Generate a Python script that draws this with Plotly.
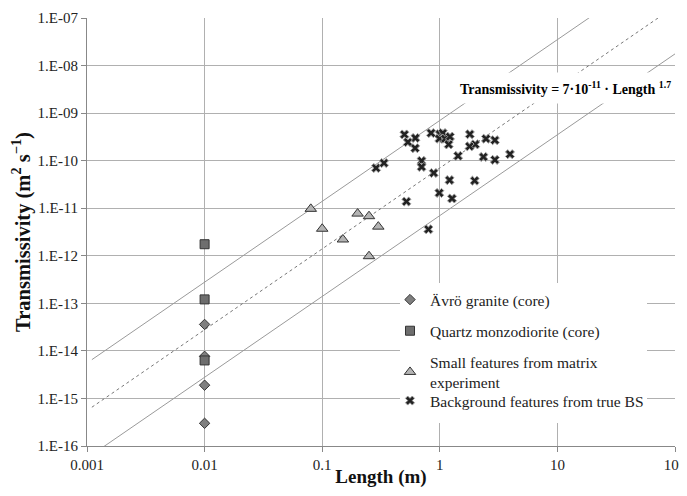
import numpy as np
import plotly.graph_objects as go

# ---- data ----
avro_len = [0.01, 0.01, 0.01, 0.01]
avro_T = [3.6e-14, 7.7e-15, 1.9e-15, 3.0e-16]

qmd_len = [0.01, 0.01, 0.01]
qmd_T = [1.75e-12, 1.21e-13, 6.3e-15]

small_len = [0.08, 0.10, 0.15, 0.20, 0.25, 0.25, 0.30]
small_T = [9.7e-12, 3.7e-12, 2.2e-12, 7.7e-12, 6.8e-12, 9.8e-13, 4.1e-12]

bg_len = [0.50, 0.62, 0.535, 0.617, 0.843, 1.00, 1.06, 0.99, 1.11, 1.22,
          1.19, 1.80, 2.47, 2.94, 2.00, 1.79, 1.43, 2.35, 2.94, 3.95,
          0.287, 0.335, 0.70, 0.70, 0.887, 1.21, 1.98, 0.99, 1.27, 0.52, 0.80]
bg_T = [3.56e-10, 3.0e-10, 2.45e-10, 1.83e-10, 3.8e-10, 3.6e-10, 3.8e-10, 2.9e-10, 2.9e-10, 3.2e-10,
        2.2e-10, 3.6e-10, 2.9e-10, 2.7e-10, 2.2e-10, 2.0e-10, 1.26e-10, 1.2e-10, 1.04e-10, 1.37e-10,
        7.0e-11, 8.9e-11, 9.9e-11, 7.4e-11, 5.5e-11, 3.9e-11, 3.8e-11, 2.1e-11, 1.6e-11, 1.38e-11, 3.6e-12]

fit_coef = 7e-11
fit_exp = 1.7
band_coefs = [7e-10, 7e-12]
line_len = [0.0011, 100]

x_tickvals = [0.001, 0.01, 0.1, 1, 10, 100]
x_ticktext = ["0.001", "0.01", "0.1", "1", "10", "100"]
y_exps = list(range(-16, -6))
y_tickvals = [10.0 ** e for e in y_exps]
y_ticktext = ["1.E-%02d" % (-e) for e in y_exps]

SERIF = "Liberation Serif, Times New Roman, serif"

# page offset (body margin of the html page) and plot-area geometry in page pixels
OFF = 8
FIG_W, FIG_H = 687 - OFF, 496 - 2 * OFF
PL, PR, PT, PB = 87, 675, 18, 446
PW, PH = PR - PL, PB - PT

def px(xp):
    return (xp - PL) / PW

def py(yp):
    return (PB - yp) / PH

fig = go.Figure()

# fit lines
for c in band_coefs:
    fig.add_trace(go.Scatter(x=line_len, y=[c * l ** fit_exp for l in line_len],
                             mode="lines", line=dict(color="#9a9a9a", width=1),
                             showlegend=False, hoverinfo="skip"))
fig.add_trace(go.Scatter(x=line_len, y=[fit_coef * l ** fit_exp for l in line_len],
                         mode="lines", line=dict(color="#777777", width=1, dash="dot"),
                         showlegend=False, hoverinfo="skip"))

fig.add_trace(go.Scatter(x=avro_len, y=avro_T, mode="markers", name="Ävrö granite (core)",
                         legendgroup="a",
                         marker=dict(symbol="diamond", size=8, color="#7f7f7f",
                                     line=dict(color="#333333", width=1))))
fig.add_trace(go.Scatter(x=qmd_len, y=qmd_T, mode="markers", name="Quartz monzodiorite (core)",
                         legendgroup="b",
                         marker=dict(symbol="square", size=9, color="#6e6e6e",
                                     line=dict(color="#333333", width=1))))
fig.add_trace(go.Scatter(x=small_len, y=small_T, mode="markers",
                         name="Small features from matrix<br>experiment",
                         legendgroup="c",
                         marker=dict(symbol="triangle-up", size=10, color="#b4b4b4",
                                     line=dict(color="#333333", width=1))))
fig.add_trace(go.Scatter(x=bg_len, y=bg_T, mode="markers",
                         name="Background features from true BS",
                         legend="legend2",
                         marker=dict(symbol="x", size=8, color="#222222",
                                     line=dict(color="#a0a0a0", width=1))))

fig.add_annotation(xref="paper", yref="paper", x=1.0, y=py(88), xshift=3,
                   xanchor="right", yanchor="middle",
                   text="<b>Transmissivity = 7·10<sup>-11</sup> · Length <sup>1.7</sup></b>",
                   showarrow=False, bgcolor="white", borderpad=6,
                   font=dict(family=SERIF, size=14, color="black"))

# white legend panel covering the grid
fig.add_shape(type="rect", xref="paper", yref="paper",
              x0=px(400), x1=px(647), y0=py(423), y1=py(283),
              fillcolor="white", line=dict(width=0), layer="above")

leg_font = dict(family=SERIF, size=15.5, color="#222222")

fig.update_layout(
    width=FIG_W, height=FIG_H,
    margin=dict(l=PL - OFF, r=FIG_W - (PR - OFF), t=PT - OFF, b=FIG_H - (PB - OFF),
                autoexpand=False),
    paper_bgcolor="white", plot_bgcolor="white",
    font=dict(family=SERIF, size=14, color="#222222"),
    legend=dict(x=px(390), y=py(283), xanchor="left", yanchor="top",
                bgcolor="rgba(0,0,0,0)", borderwidth=0, tracegroupgap=8,
                traceorder="grouped", font=leg_font, itemwidth=30),
    legend2=dict(x=px(390), y=py(384), xanchor="left", yanchor="top",
                 bgcolor="rgba(0,0,0,0)", borderwidth=0, font=leg_font, itemwidth=30),
    xaxis=dict(type="log", range=[-3, 2], tickvals=x_tickvals, ticktext=x_ticktext,
               automargin=False,
               showgrid=True, gridcolor="#b0b0b0", gridwidth=1,
               showline=True, linecolor="#888888", linewidth=1,
               ticks="outside", ticklen=5, tickcolor="#888888",
               tickfont=dict(family=SERIF, size=15, color="#222222"),
               zeroline=False, mirror=False,
               title=dict(text="<b>Length (m)</b>", standoff=11,
                          font=dict(family=SERIF, size=19, color="#111111"))),
    yaxis=dict(type="log", range=[-16, -7], tickvals=y_tickvals, ticktext=y_ticktext,
               automargin=False,
               showgrid=True, gridcolor="#b0b0b0", gridwidth=1,
               showline=True, linecolor="#888888", linewidth=1,
               ticks="outside", ticklen=5, tickcolor="#888888",
               tickfont=dict(family=SERIF, size=15, color="#222222"),
               zeroline=False,
               title=dict(text="<b>Transmissivity (m<sup>2</sup> s<sup>−1</sup>)</b>", standoff=2,
                          font=dict(family=SERIF, size=20.5, color="#111111"))),
)

fig.write_html("out.html")
